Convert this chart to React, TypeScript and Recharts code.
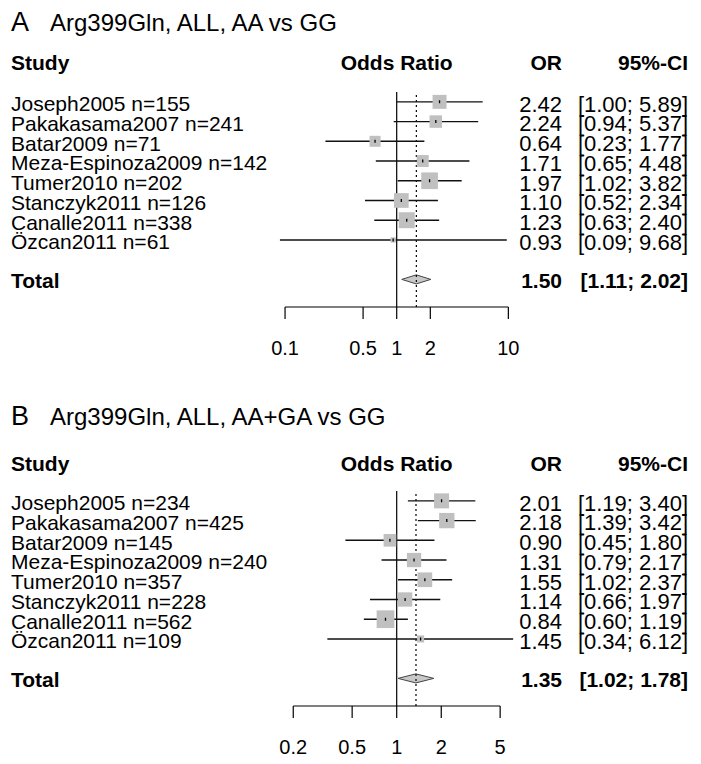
import React from 'react';
import { ComposedChart, Scatter, ErrorBar, XAxis, YAxis, ReferenceLine, ReferenceArea } from 'recharts';

const studies = ['Joseph2005', 'Pakakasama2007', 'Batar2009', 'Meza-Espinoza2009', 'Tumer2010', 'Stanczyk2011', 'Canalle2011', 'Özcan2011'];

// panel A: AA vs GG
const nA = [155, 241, 71, 142, 202, 126, 338, 61];
const orA = [2.42, 2.24, 0.64, 1.71, 1.97, 1.1, 1.23, 0.93];
const loA = [1.0, 0.94, 0.23, 0.65, 1.02, 0.52, 0.63, 0.09];
const hiA = [5.89, 5.37, 1.77, 4.48, 3.82, 2.34, 2.4, 9.68];
const weightA = [14.0, 11.2, 8.7, 10.3, 20.0, 15.5, 18.3, 2.0];
const totalA = [1.5, 1.11, 2.02];
const ticksA = [0.1, 0.5, 1, 2, 10];

// panel B: AA+GA vs GG
const nB = [234, 425, 145, 240, 357, 228, 562, 109];
const orB = [2.01, 2.18, 0.9, 1.31, 1.55, 1.14, 0.84, 1.45];
const loB = [1.19, 1.39, 0.45, 0.79, 1.02, 0.66, 0.6, 0.34];
const hiB = [3.4, 3.42, 1.8, 2.17, 2.37, 1.97, 1.19, 6.12];
const weightB = [14.0, 14.6, 10.0, 12.7, 13.4, 12.7, 19.5, 3.1];
const totalB = [1.35, 1.02, 1.78];
const ticksB = [0.2, 0.5, 1, 2, 5];

const FONT = '"Liberation Sans", Arial, Helvetica, sans-serif';
const W = 701;
const ONE_X = 396.7; // pixel of OR = 1
const TOTAL_ROW = 9;
const Y_DOMAIN = [-0.5, 10.4];
const ROW_TICKS = [0, 1, 2, 3, 4, 5, 6, 7, TOTAL_ROW];
const X_LABEL = 11;
const X_OR = 562;
const X_CI = 688;

const fmtCi = (lo: number, hi: number) => `[${lo.toFixed(2)}; ${hi.toFixed(2)}]`;

type PanelProps = {
  letter: string;
  title: string;
  n: number[];
  or: number[];
  lo: number[];
  hi: number[];
  weight: number[];
  total: number[];
  ticks: number[];
  ppd: number; // pixels per decade
  half: number; // decades each side of 1
  boxK: number;
  top: number;
  titleBase: number;
  headBase: number;
};

function ForestPanel(p: PanelProps) {
  const rows = p.or.map((v, i) => ({
    row: i,
    or: v,
    err: [v - p.lo[i], p.hi[i] - v],
    w: p.weight[i],
  }));
  const plotLeft = ONE_X - p.half * p.ppd;
  const plotRight = ONE_X + p.half * p.ppd;
  const domain = [Math.pow(10, -p.half), Math.pow(10, p.half)];

  const renderTick = (t: any) => {
    const r = t.payload.value;
    const y = t.y;
    if (r === TOTAL_ROW) {
      return (
        <g>
          <text x={X_LABEL} y={y} dy="0.42em" fontSize={21} fontWeight="bold" fill="#000">Total</text>
          <text x={X_OR} y={y} dy="0.42em" fontSize={21} fontWeight="bold" fill="#000" textAnchor="end">{p.total[0].toFixed(2)}</text>
          <text x={X_CI} y={y} dy="0.42em" fontSize={21} fontWeight="bold" fill="#000" textAnchor="end">{fmtCi(p.total[1], p.total[2])}</text>
        </g>
      );
    }
    return (
      <g>
        <text x={X_LABEL} y={y} dy="0.45em" fontSize={21} fill="#000">{`${studies[r]} n=${p.n[r]}`}</text>
        <text x={X_OR} y={y} dy="0.45em" fontSize={22} fill="#000" textAnchor="end">{p.or[r].toFixed(2)}</text>
        <text x={X_CI} y={y} dy="0.45em" fontSize={22} fill="#000" textAnchor="end">{fmtCi(p.lo[r], p.hi[r])}</text>
      </g>
    );
  };

  const renderBox = (s: any) => {
    const side = p.boxK * Math.sqrt(s.payload.w);
    return (
      <g>
        <rect x={s.cx - side / 2} y={s.cy - side / 2} width={side} height={side} fill="#c0c0c0" />
        <line x1={s.cx} x2={s.cx} y1={s.cy - 1.5} y2={s.cy + 1.5} stroke="#000" strokeWidth={1.3} />
      </g>
    );
  };

  const renderDiamond = (a: any) => {
    const { x, y, width, height } = a;
    const pts = `${x},${y + height / 2} ${x + width / 2},${y} ${x + width},${y + height / 2} ${x + width / 2},${y + height}`;
    return <polygon points={pts} fill="#c8c8c8" stroke="#444" strokeWidth={1} />;
  };

  return (
    <div style={{ position: 'absolute', left: 0, top: p.top, width: W, height: 380 }}>
      <svg width={W} height={100} style={{ position: 'absolute', left: 0, top: 0 }}>
        <text x={11} y={p.titleBase} fontSize={27} fill="#000">{p.letter}</text>
        <text x={50} y={p.titleBase} fontSize={24} fill="#000">{p.title}</text>
        <text x={X_LABEL} y={p.headBase} fontSize={21} fontWeight="bold" fill="#000">Study</text>
        <text x={ONE_X} y={p.headBase} fontSize={21} fontWeight="bold" fill="#000" textAnchor="middle">Odds Ratio</text>
        <text x={X_OR} y={p.headBase} fontSize={21} fontWeight="bold" fill="#000" textAnchor="end">OR</text>
        <text x={X_CI} y={p.headBase} fontSize={21} fontWeight="bold" fill="#000" textAnchor="end">95%-CI</text>
      </svg>
      <div style={{ position: 'absolute', left: 0, top: 0 }}>
        <ComposedChart width={W} height={380} margin={{ top: 92, right: W - plotRight, bottom: 0, left: 0 }}>
          <XAxis
            type="number"
            dataKey="or"
            scale="log"
            domain={domain}
            allowDataOverflow
            ticks={p.ticks}
            interval={0}
            axisLine={false}
            tickLine={{ stroke: '#000', strokeWidth: 1.2 }}
            tickSize={12}
            tickMargin={22}
            height={73}
            tick={{ fill: '#000', fontSize: 20 }}
            tickFormatter={(v: number) => String(v)}
          />
          <YAxis
            yAxisId="l"
            type="number"
            dataKey="row"
            domain={Y_DOMAIN}
            reversed
            ticks={ROW_TICKS}
            interval={0}
            axisLine={false}
            tickLine={false}
            width={plotLeft}
            tick={renderTick}
          />
          <ReferenceLine yAxisId="l" x={1} stroke="#000" strokeWidth={1.2} />
          <ReferenceLine yAxisId="l" x={p.total[0]} stroke="#000" strokeWidth={1.2} strokeDasharray="2 3" />
          <ReferenceLine
            yAxisId="l"
            ifOverflow="visible"
            segment={[{ x: p.ticks[0], y: Y_DOMAIN[1] }, { x: p.ticks[p.ticks.length - 1], y: Y_DOMAIN[1] }]}
            stroke="#000"
            strokeWidth={1.2}
          />
          <Scatter yAxisId="l" data={rows} shape={renderBox} isAnimationActive={false}>
            <ErrorBar dataKey="err" direction="x" width={0} stroke="#111" strokeWidth={1.4} isAnimationActive={false} />
          </Scatter>
          <ReferenceArea
            yAxisId="l"
            x1={p.total[1]}
            x2={p.total[2]}
            y1={TOTAL_ROW - 0.23}
            y2={TOTAL_ROW + 0.23}
            ifOverflow="visible"
            shape={renderDiamond}
          />
        </ComposedChart>
      </div>
    </div>
  );
}

export default function App() {
  return (
    <div style={{ position: 'absolute', left: 0, top: 0, width: W, height: 764, background: '#fff', fontFamily: FONT }}>
      <ForestPanel
        letter="A"
        title="Arg399Gln, ALL, AA vs GG"
        n={nA}
        or={orA}
        lo={loA}
        hi={hiA}
        weight={weightA}
        total={totalA}
        ticks={ticksA}
        ppd={111.65}
        half={1.1}
        boxK={3.73}
        top={0}
        titleBase={31}
        headBase={70}
      />
      <ForestPanel
        letter="B"
        title="Arg399Gln, ALL, AA+GA vs GG"
        n={nB}
        or={orB}
        lo={loB}
        hi={hiB}
        weight={weightB}
        total={totalB}
        ticks={ticksB}
        ppd={148}
        half={0.8}
        boxK={4.01}
        top={399}
        titleBase={26}
        headBase={72}
      />
    </div>
  );
}
